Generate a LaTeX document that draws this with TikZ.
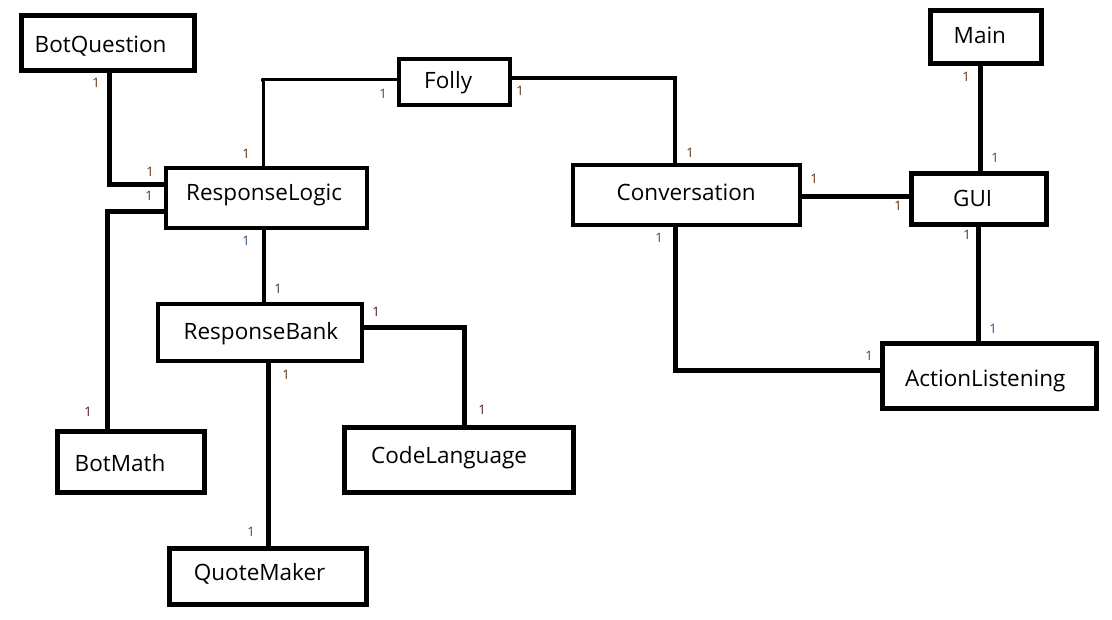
\documentclass[tikz,border=0pt]{standalone}
\usepackage{fontspec}
\setmainfont{Open Sans}
\definecolor{onebrown}{HTML}{5A2E0E}
\definecolor{oneblue}{HTML}{1E4C78}
\definecolor{onepurple}{HTML}{4A0E3A}
\definecolor{onegreen}{HTML}{244C24}
\begin{document}
\begin{tikzpicture}[x=1pt,y=-1pt,
    cls/.style={draw, line width=5pt, fill=white, inner sep=0pt},
    clsthin/.style={cls, line width=4pt},
    clsname/.style={anchor=base west, inner sep=0pt, font=\fontsize{22.5}{27}\selectfont},
    mult/.style={inner sep=0pt, font=\fontsize{13}{15}\selectfont},
    link/.style={line width=5pt},
    linkthin/.style={line width=4pt}]
      \useasboundingbox (0,0) rectangle (1112,620);

      % connectors
      \coordinate (bend) at (263,80);

      % classes
      \node[cls, minimum width=173pt, minimum height=55pt] (bq) at (108,43) {};
      \node[clsthin, minimum width=201pt, minimum height=60pt] (rl) at (266,198.5) {};
      \node[clsthin, line width=3.5pt, minimum width=111pt, minimum height=46pt] (folly) at (454.5,82) {};
      \node[clsthin, line width=3.5pt, minimum width=227pt, minimum height=60pt] (conv) at (686.5,195) {};
      \node[cls, minimum width=135pt, minimum height=51pt] (gui) at (978.5,199.5) {};
      \node[cls, minimum width=111pt, minimum height=53pt] (main) at (985.5,37.5) {};
      \node[cls, minimum width=214pt, minimum height=65pt] (al) at (989,376.5) {};
      \node[clsthin, minimum width=204pt, minimum height=57pt] (rb) at (260,332.5) {};
      \node[cls, minimum width=229pt, minimum height=65pt] (cl) at (459,460) {};
      \node[cls, minimum width=147pt, minimum height=61pt] (bm) at (131,462) {};
      \node[cls, minimum width=197pt, minimum height=56pt] (qm) at (268,576.5) {};

      \node[clsname] (bqname) at (34.5,52.7) {BotQuestion};
      \node[clsname] (rlname) at (186,200.5) {ResponseLogic};
      \node[clsname] (follyname) at (424,88.3) {Folly};
      \node[clsname] (convname) at (616.5,200.7) {Conversation};
      \node[clsname] (guiname) at (953,206.7) {GUI};
      \node[clsname] (mainname) at (953.5,43.3) {Main};
      \node[clsname] (alname) at (905,386.7) {ActionListening};
      \node[clsname] (rbname) at (183.5,340) {ResponseBank};
      \node[clsname] (clname) at (371,464) {CodeLanguage};
      \node[clsname] (bmname) at (74.5,471.7) {BotMath};
      \node[clsname] (qmname) at (193.7,580.7) {QuoteMaker};

      \draw[link] ([xshift=1pt]bq.south) |- ([yshift=13.5pt]rl.west);
      \draw[link] ([yshift=-13.5pt]rl.west) -| ([xshift=-24pt]bm.north);
      \draw[line width=3pt] ([xshift=-3pt]rl.north) -- (bend) -- (bend -| folly.west);
      \fill (bend) circle (2.2pt);
      \draw[linkthin] ([yshift=4pt]folly.east) -| ([xshift=-11.5pt]conv.north);
      \draw[link] ([yshift=-2pt]conv.east) -- ([yshift=-2pt]conv.east -| gui.west);
      \draw[link] ([xshift=-5.5pt]main.south) -- ([xshift=-5.5pt]main.south |- gui.north);
      \draw[link] (gui.south) -- (gui.south |- al.north);
      \draw[link] ([xshift=-11.5pt]conv.south) |- ([yshift=5.5pt]al.west);
      \draw[linkthin] ([xshift=-2pt]rl.south) -- ([xshift=-2pt]rl.south |- rb.north);
      \draw[link] ([yshift=4.5pt]rb.east) -| ([xshift=5pt]cl.north);
      \draw[link] ([xshift=8pt]rb.south) -- (qm.north);

      % multiplicities
      \node[mult, text=onebrown] (m1) at (96,83) {1};
      \node[mult, text=onebrown] (m2) at (150,172) {1};
      \node[mult, text=onegreen] (m3) at (149,195.5) {1};
      \node[mult, text=oneblue] (m4) at (383,94) {1};
      \node[mult, text=onebrown] (m5) at (246,154) {1};
      \node[mult, text=onebrown] (m6) at (520,91) {1};
      \node[mult, text=onebrown] (m7) at (690,153) {1};
      \node[mult, text=oneblue] (m8) at (246,241) {1};
      \node[mult, text=onebrown] (m9) at (278,289) {1};
      \node[mult, text=onepurple] (m10) at (376,312) {1};
      \node[mult, text=onebrown] (m11) at (286,375) {1};
      \node[mult, text=onepurple] (m12) at (482,410) {1};
      \node[mult, text=onepurple] (m13) at (88,412) {1};
      \node[mult, text=oneblue] (m14) at (251,532) {1};
      \node[mult, text=oneblue] (m15) at (659,238) {1};
      \node[mult, text=oneblue] (m16) at (869,356) {1};
      \node[mult, text=onebrown] (m17) at (966,77) {1};
      \node[mult, text=oneblue] (m18) at (995,158) {1};
      \node[mult, text=onebrown] (m19) at (814,179) {1};
      \node[mult, text=onebrown] (m20) at (898,206) {1};
      \node[mult, text=onebrown] (m21) at (967,235) {1};
      \node[mult, text=oneblue] (m22) at (993,329) {1};

  \end{tikzpicture}
\end{document}
